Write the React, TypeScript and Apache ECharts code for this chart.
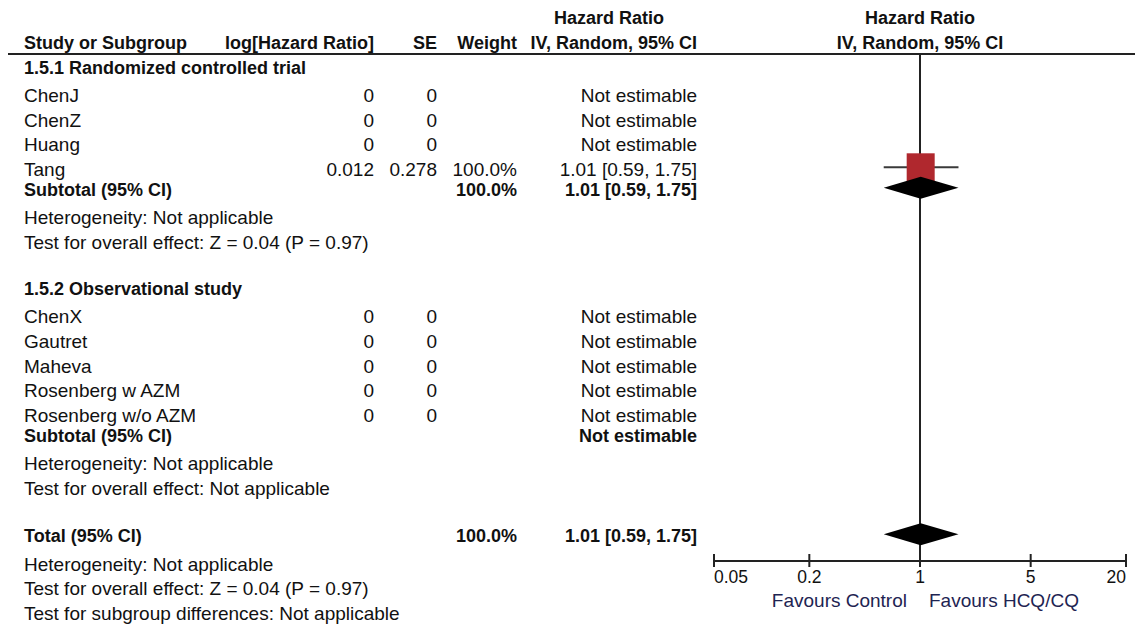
import React, { useEffect, useRef } from "react";
import * as echarts from "echarts";

// ---- Data ----
const groupTitles = ["1.5.1 Randomized controlled trial", "1.5.2 Observational study"];
const studyNames = [
  ["ChenJ", "ChenZ", "Huang", "Tang"],
  ["ChenX", "Gautret", "Maheva", "Rosenberg w AZM", "Rosenberg w/o AZM"],
];
const studyLogHR = [
  [0, 0, 0, 0.012],
  [0, 0, 0, 0, 0],
];
const studySE = [
  [0, 0, 0, 0.278],
  [0, 0, 0, 0, 0],
];
const studyWeight = [
  [null, null, null, 100.0],
  [null, null, null, null, null],
];
const studyHR = [
  [null, null, null, 1.01],
  [null, null, null, null, null],
];
const studyLower = [
  [null, null, null, 0.59],
  [null, null, null, null, null],
];
const studyUpper = [
  [null, null, null, 1.75],
  [null, null, null, null, null],
];
const subtotalWeight = [100.0, null];
const subtotalHR = [1.01, null];
const subtotalLower = [0.59, null];
const subtotalUpper = [1.75, null];
const groupNotes = [
  ["Heterogeneity: Not applicable", "Test for overall effect: Z = 0.04 (P = 0.97)"],
  ["Heterogeneity: Not applicable", "Test for overall effect: Not applicable"],
];
const totalWeight = 100.0;
const totalHR = 1.01;
const totalLower = 0.59;
const totalUpper = 1.75;
const totalNotes = [
  "Heterogeneity: Not applicable",
  "Test for overall effect: Z = 0.04 (P = 0.97)",
  "Test for subgroup differences: Not applicable",
];
const axisTicks = [0.05, 0.2, 1, 5, 20];
const favoursLabels = ["Favours Control", "Favours HCQ/CQ"];

// ---- Layout ----
const W = 1135;
const H = 624;
const FAMILY = "'Liberation Sans', Arial, sans-serif";
const REG = `19px ${FAMILY}`;
const BOLD = `bold 18px ${FAMILY}`;
const INK = "#111";
const PLOT_LEFT = 714;
const PLOT_RIGHT = 1126;
const AXIS_Y = 561;
const RULE_Y = 54;
const COL = { name: 24, logHR: 374, se: 437, weight: 517, hr: 697 };
const MARK_SHIFT = -2;

const fmtNum = (v: number) => (v === 0 ? "0" : String(v));
const fmtCI = (e: number, l: number, u: number) =>
  `${e.toFixed(2)} [${l.toFixed(2)}, ${u.toFixed(2)}]`;

type Row = { kind: string; y: number; g?: number; i?: number; text?: string };

function buildRows(): Row[] {
  const rows: Row[] = [];
  let y = 68;
  groupTitles.forEach((title, g) => {
    if (g > 0) y += 47;
    rows.push({ kind: "group", y, text: title, g });
    y += 27.5;
    studyNames[g].forEach((_, i) => {
      if (i > 0) y += 24.6;
      rows.push({ kind: "study", y, g, i });
    });
    y += 20.5;
    rows.push({ kind: "subtotal", y, g });
    y += 28;
    groupNotes[g].forEach((t, k) => {
      if (k > 0) y += 24.5;
      rows.push({ kind: "note", y, text: t });
    });
  });
  y += 48;
  rows.push({ kind: "total", y });
  y += 28;
  totalNotes.forEach((t, k) => {
    if (k > 0) y += 24.5;
    rows.push({ kind: "note", y, text: t });
  });
  return rows;
}

function txt(text: string, x: number, y: number, font: string, align = "left", fill = INK) {
  return {
    type: "text",
    silent: true,
    style: {
      text,
      x,
      y,
      font,
      fill,
      align,
      verticalAlign: "middle",
      textAlign: align,
      textVerticalAlign: "middle",
    },
  };
}

export default function App() {
  const ref = useRef<HTMLDivElement>(null);

  useEffect(() => {
    document.body.style.margin = "0";
    if (!ref.current) return;
    const chart = echarts.init(ref.current, undefined, { renderer: "svg" });
    const rows = buildRows();
    const lg = (v: number) => Math.log10(v);

    const texts: any[] = [];
    const studyMarks: any[] = [];
    const diamonds: any[] = [];

    // Column headers
    const hrHeadCenter = 609;
    const plotCenter = (PLOT_LEFT + PLOT_RIGHT) / 2;
    texts.push(txt("Hazard Ratio", hrHeadCenter, 18, BOLD, "center"));
    texts.push(txt("Hazard Ratio", plotCenter, 18, BOLD, "center"));
    texts.push(txt("Study or Subgroup", COL.name, 43, BOLD));
    texts.push(txt("log[Hazard Ratio]", COL.logHR, 43, BOLD, "right"));
    texts.push(txt("SE", COL.se, 43, BOLD, "right"));
    texts.push(txt("Weight", COL.weight, 43, BOLD, "right"));
    texts.push(txt("IV, Random, 95% CI", COL.hr, 43, BOLD, "right"));
    texts.push(txt("IV, Random, 95% CI", plotCenter, 43, BOLD, "center"));

    rows.forEach((r) => {
      if (r.kind === "group") {
        texts.push(txt(r.text!, COL.name, r.y, BOLD));
      } else if (r.kind === "note") {
        texts.push(txt(r.text!, COL.name, r.y, REG));
      } else if (r.kind === "study") {
        const g = r.g!, i = r.i!;
        texts.push(txt(studyNames[g][i], COL.name, r.y, REG));
        texts.push(txt(fmtNum(studyLogHR[g][i]), COL.logHR, r.y, REG, "right"));
        texts.push(txt(fmtNum(studySE[g][i]), COL.se, r.y, REG, "right"));
        const w = studyWeight[g][i];
        const e = studyHR[g][i];
        if (w != null) texts.push(txt(`${w.toFixed(1)}%`, COL.weight, r.y, REG, "right"));
        if (e != null) {
          const l = studyLower[g][i]!, u = studyUpper[g][i]!;
          texts.push(txt(fmtCI(e, l, u), COL.hr, r.y, REG, "right"));
          studyMarks.push([lg(e), lg(l), lg(u), r.y + MARK_SHIFT, w]);
        } else {
          texts.push(txt("Not estimable", COL.hr, r.y, REG, "right"));
        }
      } else if (r.kind === "subtotal") {
        const g = r.g!;
        texts.push(txt("Subtotal (95% CI)", COL.name, r.y, BOLD));
        const w = subtotalWeight[g];
        const e = subtotalHR[g];
        if (w != null) texts.push(txt(`${w.toFixed(1)}%`, COL.weight, r.y, BOLD, "right"));
        if (e != null) {
          const l = subtotalLower[g]!, u = subtotalUpper[g]!;
          texts.push(txt(fmtCI(e, l, u), COL.hr, r.y, BOLD, "right"));
          diamonds.push([lg(e), lg(l), lg(u), r.y + MARK_SHIFT]);
        } else {
          texts.push(txt("Not estimable", COL.hr, r.y, BOLD, "right"));
        }
      } else if (r.kind === "total") {
        texts.push(txt("Total (95% CI)", COL.name, r.y, BOLD));
        texts.push(txt(`${totalWeight.toFixed(1)}%`, COL.weight, r.y, BOLD, "right"));
        texts.push(txt(fmtCI(totalHR, totalLower, totalUpper), COL.hr, r.y, BOLD, "right"));
        diamonds.push([lg(totalHR), lg(totalLower), lg(totalUpper), r.y + MARK_SHIFT]);
      }
    });

    // Favours labels under the axis
    const favColor = "#1e2452";
    texts.push(txt(favoursLabels[0], plotCenter - 13, 600, REG, "right", favColor));
    texts.push(txt(favoursLabels[1], plotCenter + 9, 600, REG, "left", favColor));

    // Header rule
    texts.push({
      type: "line",
      silent: true,
      shape: { x1: 8, y1: RULE_Y, x2: W, y2: RULE_Y },
      style: { stroke: "#222", lineWidth: 2 },
    });

    const tickVals = axisTicks.map(lg);

    chart.setOption({
      animation: false,
      backgroundColor: "#fff",
      grid: { left: PLOT_LEFT, right: W - PLOT_RIGHT, top: 0, bottom: H - AXIS_Y },
      xAxis: {
        type: "value",
        position: "bottom",
        min: lg(axisTicks[0]),
        max: lg(axisTicks[axisTicks.length - 1]),
        axisLine: { show: true, onZero: false, lineStyle: { color: "#222", width: 2 } },
        axisTick: { show: false },
        splitLine: { show: false },
        axisLabel: {
          customValues: tickVals,
          formatter: (v: number) => {
            const k = tickVals.findIndex((t) => Math.abs(t - v) < 1e-6);
            return k >= 0 ? String(axisTicks[k]) : "";
          },
          alignMinLabel: "left",
          alignMaxLabel: "right",
          fontFamily: FAMILY,
          fontSize: 17.5,
          color: INK,
          margin: 7,
        },
      },
      yAxis: { type: "value", min: 0, max: AXIS_Y, inverse: true, show: false },
      graphic: texts,
      series: [
        {
          // line of no effect
          type: "custom",
          clip: false,
          silent: true,
          data: [[0, RULE_Y, AXIS_Y]],
          renderItem: (_p: any, api: any) => {
            const a = api.coord([api.value(0), api.value(1)]);
            const b = api.coord([api.value(0), api.value(2)]);
            return {
              type: "line",
              shape: { x1: a[0], y1: a[1], x2: b[0], y2: b[1] },
              style: { stroke: "#222", lineWidth: 2 },
            };
          },
        },
        {
          // axis ticks crossing the axis line
          type: "custom",
          clip: false,
          silent: true,
          data: tickVals.map((v) => [v, AXIS_Y]),
          renderItem: (_p: any, api: any) => {
            const p = api.coord([api.value(0), api.value(1)]);
            return {
              type: "line",
              shape: { x1: p[0], y1: p[1] - 7, x2: p[0], y2: p[1] + 6 },
              style: { stroke: "#222", lineWidth: 2 },
            };
          },
        },
        {
          // study estimates: CI whisker + weighted square
          type: "custom",
          clip: false,
          silent: true,
          data: studyMarks,
          renderItem: (_p: any, api: any) => {
            const c = api.coord([api.value(0), api.value(3)]);
            const lo = api.coord([api.value(1), api.value(3)]);
            const hi = api.coord([api.value(2), api.value(3)]);
            const side = 28 * Math.sqrt(api.value(4) / 100);
            return {
              type: "group",
              children: [
                {
                  type: "line",
                  shape: { x1: lo[0], y1: c[1], x2: hi[0], y2: c[1] },
                  style: { stroke: "#3a3a3a", lineWidth: 2 },
                },
                {
                  type: "rect",
                  shape: { x: c[0] - side / 2, y: c[1] - side / 2, width: side, height: side },
                  style: { fill: "#b0282e" },
                },
              ],
            };
          },
        },
        {
          // pooled estimates: diamonds
          type: "custom",
          clip: false,
          silent: true,
          data: diamonds,
          renderItem: (_p: any, api: any) => {
            const c = api.coord([api.value(0), api.value(3)]);
            const lo = api.coord([api.value(1), api.value(3)]);
            const hi = api.coord([api.value(2), api.value(3)]);
            const h = 11;
            return {
              type: "polygon",
              shape: {
                points: [
                  [lo[0], c[1]],
                  [c[0], c[1] - h],
                  [hi[0], c[1]],
                  [c[0], c[1] + h],
                ],
              },
              style: { fill: "#000" },
            };
          },
        },
      ],
    });

    return () => chart.dispose();
  }, []);

  return <div ref={ref} style={{ width: W, height: H }} />;
}
